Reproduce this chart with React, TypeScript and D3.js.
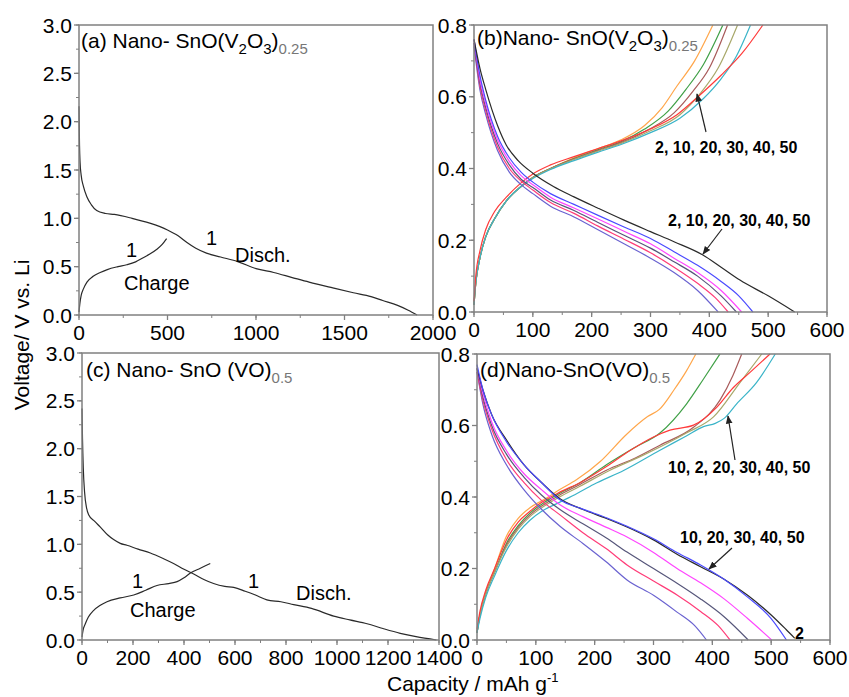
import React from "react";
import * as d3 from "d3";

// ---- data (capacity mAh/g, voltage V) ----
type Pt = [number, number];

// (a) Nano- SnO(V2O3)0.25, first cycle
const aDisch: Pt[] = [[0, 2.16], [1, 2.0], [3, 1.75], [6, 1.58], [12, 1.45], [25, 1.33], [45, 1.22], [70, 1.14], [100, 1.08], [150, 1.05], [200, 1.04], [300, 1.0], [400, 0.95], [500, 0.88], [560, 0.82], [610, 0.75], [660, 0.69], [720, 0.64], [800, 0.6], [900, 0.55], [1000, 0.48], [1100, 0.44], [1200, 0.39], [1300, 0.34], [1434, 0.28], [1550, 0.23], [1650, 0.19], [1716, 0.15], [1800, 0.1], [1860, 0.05], [1910, 0.0]];
const aCharge: Pt[] = [[0, 0.03], [5, 0.12], [12, 0.2], [25, 0.27], [45, 0.34], [80, 0.4], [120, 0.44], [160, 0.47], [220, 0.5], [270, 0.52], [320, 0.55], [360, 0.59], [400, 0.63], [440, 0.68], [470, 0.73], [495, 0.79]];

// (b) cycles 2..50 discharge
const bDis2: Pt[] = [[0, 0.76], [10, 0.68], [20, 0.62], [40, 0.52], [55, 0.465], [75, 0.422], [100, 0.387], [135, 0.35], [170, 0.321], [210, 0.29], [255, 0.256], [300, 0.224], [340, 0.196], [389, 0.159], [420, 0.125], [452, 0.089], [500, 0.045], [545, 0]];
const bDis10: Pt[] = [[0, 0.76], [10, 0.66], [20, 0.59], [40, 0.49], [60, 0.43], [80, 0.39], [100, 0.362], [130, 0.33], [170, 0.3], [210, 0.27], [255, 0.237], [300, 0.205], [340, 0.168], [380, 0.13], [420, 0.085], [450, 0.045], [474, 0]];
const bDis20: Pt[] = [[0, 0.76], [10, 0.65], [20, 0.58], [40, 0.48], [60, 0.42], [80, 0.38], [100, 0.355], [130, 0.32], [170, 0.29], [210, 0.26], [255, 0.225], [300, 0.19], [340, 0.15], [380, 0.11], [420, 0.06], [455, 0]];
const bDis30: Pt[] = [[0, 0.75], [10, 0.64], [20, 0.57], [40, 0.47], [60, 0.41], [80, 0.37], [100, 0.347], [130, 0.312], [170, 0.283], [210, 0.25], [255, 0.214], [300, 0.178], [340, 0.14], [380, 0.1], [420, 0.045], [446, 0]];
const bDis40: Pt[] = [[0, 0.75], [10, 0.63], [20, 0.56], [40, 0.46], [60, 0.4], [80, 0.365], [100, 0.34], [130, 0.305], [170, 0.275], [210, 0.24], [255, 0.203], [300, 0.165], [340, 0.125], [380, 0.08], [410, 0.04], [432, 0]];
const bDis50: Pt[] = [[0, 0.74], [10, 0.62], [20, 0.55], [40, 0.45], [60, 0.39], [80, 0.355], [100, 0.33], [130, 0.295], [170, 0.265], [210, 0.23], [255, 0.19], [300, 0.15], [340, 0.11], [380, 0.06], [415, 0]];
// (b) charge
const bChOrange: Pt[] = [[0, 0.02], [3, 0.08], [10, 0.15], [20, 0.21], [35, 0.26], [55, 0.31], [80, 0.35], [100, 0.375], [130, 0.4], [170, 0.43], [210, 0.455], [250, 0.48], [290, 0.52], [320, 0.57], [345, 0.63], [375, 0.7], [406, 0.8]];
const bChGreen: Pt[] = [[0, 0.02], [3, 0.08], [10, 0.15], [20, 0.21], [35, 0.26], [55, 0.31], [80, 0.35], [100, 0.375], [130, 0.4], [170, 0.428], [210, 0.452], [250, 0.475], [290, 0.51], [330, 0.56], [360, 0.62], [390, 0.69], [423, 0.8]];
const bChBrown: Pt[] = [[0, 0.02], [3, 0.08], [10, 0.15], [20, 0.21], [35, 0.26], [55, 0.31], [80, 0.35], [100, 0.375], [130, 0.4], [170, 0.427], [210, 0.45], [250, 0.472], [295, 0.507], [340, 0.555], [372, 0.615], [400, 0.68], [431, 0.8]];
const bChOlive: Pt[] = [[0, 0.02], [3, 0.08], [10, 0.15], [20, 0.21], [35, 0.26], [55, 0.31], [80, 0.35], [100, 0.374], [130, 0.399], [170, 0.425], [210, 0.448], [250, 0.47], [300, 0.505], [350, 0.55], [385, 0.61], [415, 0.68], [448, 0.8]];
const bChCyan: Pt[] = [[0, 0.02], [3, 0.08], [10, 0.15], [20, 0.21], [35, 0.26], [55, 0.31], [80, 0.35], [100, 0.372], [130, 0.397], [170, 0.422], [210, 0.445], [250, 0.467], [300, 0.5], [350, 0.54], [390, 0.595], [420, 0.65], [445, 0.71], [470, 0.8]];
const bChRed: Pt[] = [[0, 0.03], [3, 0.1], [10, 0.17], [20, 0.23], [35, 0.28], [55, 0.32], [80, 0.36], [100, 0.385], [130, 0.41], [170, 0.433], [210, 0.455], [250, 0.477], [300, 0.51], [345, 0.55], [384, 0.605], [420, 0.66], [455, 0.72], [491, 0.8]];

// (c) Nano- SnO (VO)0.5, first cycle
const cDisch: Pt[] = [[0, 2.42], [2, 2.1], [5, 1.8], [10, 1.55], [18, 1.38], [26, 1.31], [50, 1.24], [72, 1.18], [100, 1.1], [124, 1.05], [150, 1.01], [176, 0.99], [220, 0.95], [268, 0.91], [320, 0.85], [359, 0.8], [400, 0.74], [438, 0.69], [480, 0.63], [516, 0.59], [560, 0.56], [595, 0.55], [640, 0.51], [680, 0.47], [725, 0.42], [780, 0.4], [830, 0.37], [900, 0.33], [987, 0.25], [1050, 0.21], [1118, 0.17], [1180, 0.12], [1248, 0.07], [1310, 0.035], [1390, 0.0]];
const cCharge: Pt[] = [[0, 0.03], [4, 0.1], [13, 0.17], [25, 0.24], [46, 0.31], [70, 0.36], [98, 0.4], [150, 0.44], [203, 0.47], [250, 0.52], [294, 0.57], [340, 0.59], [373, 0.61], [400, 0.65], [425, 0.7], [464, 0.75], [503, 0.8]];

// (d) discharge
const dDis2: Pt[] = [[0, 0.76], [10, 0.7], [25, 0.63], [50, 0.56], [80, 0.49], [110, 0.44], [141, 0.395], [180, 0.365], [220, 0.34], [255, 0.316], [300, 0.28], [340, 0.24], [380, 0.205], [420, 0.17], [460, 0.125], [500, 0.07], [525, 0.03], [540, 0.005]];
const dDis10: Pt[] = [[0, 0.77], [10, 0.7], [25, 0.63], [50, 0.555], [80, 0.49], [110, 0.44], [141, 0.392], [180, 0.366], [220, 0.342], [255, 0.318], [300, 0.283], [340, 0.245], [380, 0.21], [420, 0.17], [460, 0.12], [500, 0.06], [526, 0]];
const dDis20: Pt[] = [[0, 0.76], [10, 0.69], [25, 0.61], [50, 0.53], [80, 0.465], [110, 0.42], [141, 0.378], [180, 0.345], [220, 0.315], [255, 0.288], [300, 0.245], [340, 0.2], [380, 0.16], [420, 0.115], [460, 0.06], [501, 0]];
const dDis30: Pt[] = [[0, 0.76], [10, 0.68], [25, 0.6], [50, 0.52], [80, 0.455], [110, 0.405], [141, 0.365], [180, 0.325], [220, 0.285], [255, 0.246], [300, 0.2], [340, 0.159], [380, 0.115], [420, 0.065], [461, 0]];
const dDis40: Pt[] = [[0, 0.75], [10, 0.67], [25, 0.59], [50, 0.505], [80, 0.44], [110, 0.39], [141, 0.35], [180, 0.3], [220, 0.255], [255, 0.21], [300, 0.165], [340, 0.126], [380, 0.08], [410, 0.04], [430, 0]];
const dDis50: Pt[] = [[0, 0.75], [10, 0.66], [25, 0.575], [50, 0.49], [80, 0.42], [110, 0.365], [141, 0.318], [180, 0.27], [220, 0.218], [255, 0.168], [300, 0.125], [340, 0.078], [370, 0.04], [390, 0]];
// (d) charge
const dChOrange: Pt[] = [[0, 0.02], [5, 0.07], [15, 0.13], [30, 0.2], [50, 0.29], [70, 0.34], [90, 0.37], [113, 0.392], [140, 0.42], [169, 0.448], [210, 0.5], [254, 0.575], [290, 0.625], [310, 0.645], [335, 0.7], [355, 0.75], [372, 0.8]];
const dChGreen: Pt[] = [[0, 0.02], [5, 0.07], [15, 0.13], [30, 0.19], [50, 0.27], [70, 0.32], [90, 0.355], [110, 0.38], [140, 0.41], [175, 0.44], [220, 0.49], [270, 0.54], [311, 0.579], [356, 0.66], [385, 0.73], [413, 0.8]];
const dChBrown: Pt[] = [[0, 0.02], [5, 0.07], [15, 0.13], [30, 0.19], [50, 0.265], [70, 0.315], [90, 0.35], [110, 0.375], [140, 0.405], [175, 0.435], [220, 0.475], [270, 0.51], [311, 0.545], [368, 0.595], [413, 0.671], [435, 0.74], [450, 0.8]];
const dChOlive: Pt[] = [[0, 0.02], [5, 0.07], [15, 0.13], [30, 0.19], [50, 0.26], [70, 0.31], [90, 0.345], [110, 0.37], [140, 0.4], [175, 0.43], [226, 0.475], [280, 0.515], [356, 0.579], [402, 0.624], [447, 0.72], [484, 0.8]];
const dChRed: Pt[] = [[0, 0.03], [5, 0.08], [15, 0.14], [30, 0.2], [50, 0.28], [70, 0.33], [90, 0.36], [110, 0.385], [140, 0.413], [175, 0.44], [220, 0.485], [260, 0.53], [300, 0.568], [328, 0.587], [368, 0.601], [407, 0.65], [435, 0.705], [465, 0.75], [498, 0.8]];
const dChCyan: Pt[] = [[0, 0.02], [5, 0.06], [15, 0.12], [30, 0.18], [50, 0.25], [70, 0.3], [90, 0.335], [110, 0.36], [140, 0.385], [170, 0.41], [198, 0.435], [250, 0.475], [311, 0.531], [355, 0.57], [385, 0.597], [405, 0.606], [420, 0.62], [441, 0.66], [475, 0.72], [507, 0.8]];

// ticks
const ticksA = [0, 500, 1000, 1500, 2000];
const ticksC = [0, 200, 400, 600, 800, 1000, 1200, 1400];
const ticksBD = [0, 100, 200, 300, 400, 500, 600];
const vTicksAC = [0, 0.5, 1.0, 1.5, 2.0, 2.5, 3.0];
const vTicksBD = [0, 0.2, 0.4, 0.6, 0.8];

// panel titles: [text, isSubscript]
type Seg = [string, boolean];
const titleA: Seg[] = [["(a) Nano- SnO(V", false], ["2", true], ["O", false], ["3", true], [")", false], ["0.25", true]];
const titleB: Seg[] = [["(b)Nano- SnO(V", false], ["2", true], ["O", false], ["3", true], [")", false], ["0.25", true]];
const titleC: Seg[] = [["(c) Nano- SnO (VO)", false], ["0.5", true]];
const titleD: Seg[] = [["(d)Nano-SnO(VO)", false], ["0.5", true]];

const FONT = "'Liberation Sans', Arial, Helvetica, sans-serif";
const AXIS = "#808080";

const C = {
  black: "#2a2a2a",
  blue: "#4a4aff",
  magenta: "#ff45ff",
  slate: "#56567a",
  pink: "#ff3c78",
  violet: "#6a62d0",
  orange: "#ffa64a",
  green: "#3fa046",
  brown: "#a85a5a",
  olive: "#a8a86a",
  cyan: "#3ab4c8",
  red: "#ff3a3a",
};

type Series = { data: Pt[]; color: string };

type PanelProps = {
  x0: number; x1: number; y0: number; y1: number;
  xMax: number; yMax: number;
  xTicks: number[]; xMinor: number;
  yTicks: number[]; yMinor: number;
  series: Series[];
};

function Panel(p: PanelProps) {
  const x = d3.scaleLinear().domain([0, p.xMax]).range([p.x0, p.x1]);
  const y = d3.scaleLinear().domain([0, p.yMax]).range([p.y1, p.y0]);
  const line = d3.line<Pt>().x((d) => x(d[0])).y((d) => y(d[1])).curve(d3.curveMonotoneX);
  const xMinors = d3.range(0, p.xMax + 1e-9, p.xMinor);
  const yMinors = d3.range(0, p.yMax + 1e-9, p.yMinor);
  const yFmt = d3.format(".1f");
  return (
    <g>
      {p.series.map((s, i) => (
        <path key={i} d={line(s.data) || ""} fill="none" stroke={s.color} strokeWidth={1.2} />
      ))}
      <rect x={p.x0} y={p.y0} width={p.x1 - p.x0} height={p.y1 - p.y0} fill="none" stroke={AXIS} strokeWidth={1.5} />
      {xMinors.map((t, i) => (
        <line key={"xm" + i} x1={x(t)} x2={x(t)} y1={p.y1} y2={p.y1 + 3} stroke={AXIS} />
      ))}
      {p.xTicks.map((t) => (
        <g key={"xt" + t}>
          <line x1={x(t)} x2={x(t)} y1={p.y1} y2={p.y1 + 5} stroke={AXIS} strokeWidth={1.3} />
          <text x={x(t)} y={p.y1 + 25} textAnchor="middle" fontSize={21} fontFamily={FONT}>{t}</text>
        </g>
      ))}
      {yMinors.map((t, i) => (
        <line key={"ym" + i} x1={p.x0 - 3} x2={p.x0} y1={y(t)} y2={y(t)} stroke={AXIS} />
      ))}
      {p.yTicks.map((t) => (
        <g key={"yt" + t}>
          <line x1={p.x0 - 5} x2={p.x0} y1={y(t)} y2={y(t)} stroke={AXIS} strokeWidth={1.3} />
          <text x={p.x0 - 7} y={y(t) + 7.5} textAnchor="end" fontSize={21} fontFamily={FONT}>{yFmt(t)}</text>
        </g>
      ))}
    </g>
  );
}

function Title({ x, y, segs }: { x: number; y: number; segs: Seg[] }) {
  let prevSub = false;
  return (
    <text x={x} y={y} fontSize={21}>
      {segs.map(([t, isSub], i) => {
        const dy = isSub && !prevSub ? 6 : !isSub && prevSub ? -6 : 0;
        prevSub = isSub;
        const fill = isSub && t.includes(".") ? "#777" : "#000";
        return (
          <tspan key={i} dy={dy} fontSize={isSub ? 15 : 21} fill={fill}>{t}</tspan>
        );
      })}
    </text>
  );
}

export default function App() {
  return (
    <svg width={849} height={697} style={{ position: "absolute", left: 0, top: 0, background: "#fff" }} fontFamily={FONT}>
      <defs>
        <marker id="ah" viewBox="0 0 10 10" refX={9} refY={5} markerWidth={7} markerHeight={7} orient="auto">
          <path d="M0,1 L10,5 L0,9 z" fill="#222" />
        </marker>
      </defs>
      <rect width={849} height={697} fill="#fff" />

      <Panel x0={79} x1={433} y0={25} y1={315} xMax={2000} yMax={3} xTicks={ticksA} xMinor={250}
        yTicks={vTicksAC} yMinor={0.25}
        series={[{ data: aDisch, color: C.black }, { data: aCharge, color: C.black }]} />
      <Panel x0={474} x1={827} y0={25} y1={312} xMax={600} yMax={0.8} xTicks={ticksBD} xMinor={50}
        yTicks={vTicksBD} yMinor={0.1}
        series={[
          { data: bChOrange, color: C.orange }, { data: bChGreen, color: C.green }, { data: bChBrown, color: C.brown },
          { data: bChOlive, color: C.olive }, { data: bChCyan, color: C.cyan }, { data: bChRed, color: C.red },
          { data: bDis50, color: C.violet }, { data: bDis40, color: C.pink }, { data: bDis30, color: C.slate },
          { data: bDis20, color: C.magenta }, { data: bDis10, color: C.blue }, { data: bDis2, color: C.black },
        ]} />
      <Panel x0={82} x1={439} y0={353} y1={640} xMax={1400} yMax={3} xTicks={ticksC} xMinor={100}
        yTicks={vTicksAC} yMinor={0.25}
        series={[{ data: cDisch, color: C.black }, { data: cCharge, color: C.black }]} />
      <Panel x0={477} x1={830} y0={354} y1={640} xMax={600} yMax={0.8} xTicks={ticksBD} xMinor={50}
        yTicks={vTicksBD} yMinor={0.1}
        series={[
          { data: dChOrange, color: C.orange }, { data: dChGreen, color: C.green }, { data: dChBrown, color: C.brown },
          { data: dChOlive, color: C.olive }, { data: dChRed, color: C.red }, { data: dChCyan, color: C.cyan },
          { data: dDis50, color: C.violet }, { data: dDis40, color: C.pink }, { data: dDis30, color: C.slate },
          { data: dDis20, color: C.magenta }, { data: dDis2, color: C.black }, { data: dDis10, color: C.blue },
        ]} />

      {/* panel titles */}
      <Title x={81} y={48} segs={titleA} />
      <Title x={477} y={45} segs={titleB} />
      <Title x={86} y={377} segs={titleC} />
      <Title x={480} y={377} segs={titleD} />

      {/* annotations (a) */}
      <text x={126} y={257} fontSize={20}>1</text>
      <text x={124} y={290} fontSize={20}>Charge</text>
      <text x={206} y={245} fontSize={20}>1</text>
      <text x={235} y={262} fontSize={20}>Disch.</text>
      {/* annotations (c) */}
      <text x={132} y={588} fontSize={20}>1</text>
      <text x={130} y={617} fontSize={20}>Charge</text>
      <text x={248} y={588} fontSize={20}>1</text>
      <text x={296} y={600} fontSize={20}>Disch.</text>

      {/* cycle labels (b) */}
      <text x={655} y={153} fontSize={16} fontWeight="bold">2, 10, 20, 30, 40, 50</text>
      <line x1={706} y1={132} x2={697} y2={94} stroke="#222" strokeWidth={1.2} markerEnd="url(#ah)" />
      <text x={668} y={226} fontSize={16} fontWeight="bold">2, 10, 20, 30, 40, 50</text>
      <line x1={722} y1={229} x2={703} y2={254} stroke="#222" strokeWidth={1.2} markerEnd="url(#ah)" />
      {/* cycle labels (d) */}
      <text x={668} y={473} fontSize={16} fontWeight="bold">10, 2, 20, 30, 40, 50</text>
      <line x1={735} y1={460} x2={728} y2={416} stroke="#222" strokeWidth={1.2} markerEnd="url(#ah)" />
      <text x={680} y={543} fontSize={16} fontWeight="bold">10, 20, 30, 40, 50</text>
      <line x1={732} y1={548} x2={709} y2={569} stroke="#222" strokeWidth={1.2} markerEnd="url(#ah)" />
      <text x={795} y={639} fontSize={16} fontWeight="bold">2</text>

      {/* axis titles */}
      <text transform="translate(29,335) rotate(-90)" textAnchor="middle" fontSize={21}>Voltage/ V vs. Li</text>
      <text x={387} y={691} fontSize={21}>
        Capacity / mAh g<tspan dy={-9} fontSize={13}>-1</tspan>
      </text>
    </svg>
  );
}
